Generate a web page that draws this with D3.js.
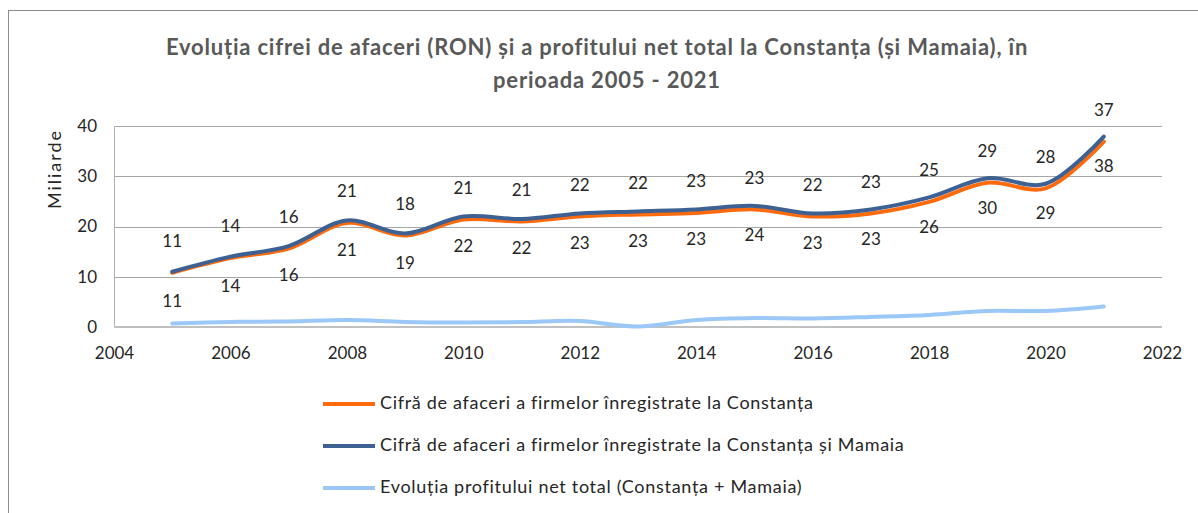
<!DOCTYPE html>
<html lang="ro">
<head>
    <meta charset="UTF-8">
    <title>Evoluția cifrei de afaceri</title>
    <style>
        body { margin: 0; background: #fff; }
        svg { display: block; font-family: Lato, "Open Sans", sans-serif; }
    </style>
</head>
<body>
<svg/>
<script src="https://d3js.org/d3.v7.min.js"></script>
<script>
    // date (miliarde RON)
    var years = [2005, 2006, 2007, 2008, 2009, 2010, 2011, 2012, 2013, 2014, 2015, 2016, 2017, 2018, 2019, 2020, 2021];
    var constanta = [10.8, 13.7, 15.6, 20.7, 18.2, 21.4, 21.0, 22.0, 22.4, 22.7, 23.4, 22.0, 22.6, 24.9, 28.7, 27.6, 36.9];
    var constantaMamaia = [11.0, 14.0, 16.1, 21.2, 18.6, 22.0, 21.5, 22.6, 23.0, 23.4, 24.1, 22.6, 23.4, 25.8, 29.6, 28.5, 37.9];
    var profit = [0.7, 1.0, 1.1, 1.4, 1.0, 0.9, 1.0, 1.2, 0.1, 1.4, 1.8, 1.7, 2.0, 2.4, 3.2, 3.2, 4.1];
    var xTicks = [2004, 2006, 2008, 2010, 2012, 2014, 2016, 2018, 2020, 2022];
    var yTicks = [0, 10, 20, 30, 40];
    var seriesNames = [
        "Cifră de afaceri a firmelor înregistrate la Constanța",
        "Cifră de afaceri a firmelor înregistrate la Constanța și Mamaia",
        "Evoluția profitului net total (Constanța + Mamaia)"
    ];
    var colors = ["#ff6a0d", "#3d6192", "#9cc8f7"];

    var width = 1198;
    var height = 513;
    var margin = {left: 114, right: 36, top: 126, bottom: 186};

    var svg = d3.select("svg")
        .attr("width", width)
        .attr("height", height);

    // cadru exterior
    svg.append("rect")
        .attr("x", 8.5).attr("y", 10.5)
        .attr("width", width + 20).attr("height", height + 20)
        .attr("fill", "none")
        .attr("stroke", "#8c8c8c");

    var xScale = d3.scaleLinear().domain([2004, 2022]).range([margin.left, width - margin.right]);
    var yScale = d3.scaleLinear().domain([0, 40]).range([height - margin.bottom, margin.top]);

    // titlu
    svg.append("text")
        .attr("x", 597).attr("y", 55)
        .attr("text-anchor", "middle")
        .attr("font-size", "22px").attr("font-weight", "bold")
        .attr("letter-spacing", "0.8px")
        .attr("fill", "#595959")
        .text("Evoluția cifrei de afaceri (RON) și a profitului net total la Constanța (și Mamaia), în");
    svg.append("text")
        .attr("x", 607).attr("y", 88)
        .attr("text-anchor", "middle")
        .attr("font-size", "22px").attr("font-weight", "bold")
        .attr("letter-spacing", "0.8px")
        .attr("fill", "#595959")
        .text("perioada 2005 - 2021");

    // grila
    svg.append("g")
        .selectAll("line")
        .data(yTicks.slice(1))
        .enter().append("line")
        .attr("x1", xScale(2004)).attr("x2", xScale(2022))
        .attr("y1", function (d) { return Math.round(yScale(d)) + 0.5; })
        .attr("y2", function (d) { return Math.round(yScale(d)) + 0.5; })
        .attr("stroke", "#a6a6a6");

    svg.append("line")
        .attr("x1", xScale(2004) + 0.5).attr("x2", xScale(2004) + 0.5)
        .attr("y1", yScale(40)).attr("y2", yScale(0))
        .attr("stroke", "#b0b0b0");

    svg.append("line")
        .attr("x1", xScale(2004)).attr("x2", xScale(2022))
        .attr("y1", yScale(0)).attr("y2", yScale(0))
        .attr("stroke", "#c0c0c0").attr("stroke-width", 2);

    // axe
    var yAxis = d3.axisLeft(yScale).tickValues(yTicks).tickSize(0).tickPadding(17);
    svg.append("g")
        .attr("transform", "translate(" + xScale(2004) + ",0)")
        .call(yAxis)
        .call(function (g) { g.select(".domain").remove(); })
        .selectAll("text")
        .attr("font-family", "Lato, sans-serif")
        .attr("font-size", "17px")
        .attr("fill", "#262626");

    var xAxis = d3.axisBottom(xScale).tickValues(xTicks).tickSize(0).tickPadding(20).tickFormat(d3.format("d"));
    svg.append("g")
        .attr("transform", "translate(0," + yScale(0) + ")")
        .call(xAxis)
        .call(function (g) { g.select(".domain").remove(); })
        .selectAll("text")
        .attr("font-family", "Lato, sans-serif")
        .attr("font-size", "17px")
        .attr("fill", "#262626");

    svg.append("text")
        .attr("transform", "translate(56,169) rotate(-90)")
        .attr("text-anchor", "middle")
        .attr("dominant-baseline", "middle")
        .attr("font-size", "18px")
        .attr("letter-spacing", "2px")
        .attr("fill", "#262626")
        .text("Miliarde");

    // linii
    var line = d3.line()
        .x(function (d, i) { return xScale(years[i]); })
        .y(function (d) { return yScale(d); })
        .curve(d3.curveCatmullRom.alpha(0.5));

    var series = [profit, constanta, constantaMamaia];
    var seriesColors = [colors[2], colors[0], colors[1]];
    svg.append("g")
        .selectAll("path")
        .data(series)
        .enter().append("path")
        .attr("d", line)
        .attr("fill", "none")
        .attr("stroke", function (d, i) { return seriesColors[i]; })
        .attr("stroke-width", 4)
        .attr("stroke-linecap", "round")
        .attr("stroke-linejoin", "round");

    // etichete
    svg.append("g")
        .selectAll("text")
        .data(constanta)
        .enter().append("text")
        .attr("x", function (d, i) { return xScale(years[i]); })
        .attr("y", function (d) { return yScale(d) - 30; })
        .attr("text-anchor", "middle")
        .attr("dominant-baseline", "middle")
        .attr("font-size", "17px")
        .attr("fill", "#262626")
        .text(function (d) { return Math.round(d); });

    svg.append("g")
        .selectAll("text")
        .data(constantaMamaia)
        .enter().append("text")
        .attr("x", function (d, i) { return xScale(years[i]); })
        .attr("y", function (d) { return yScale(d) + 31; })
        .attr("text-anchor", "middle")
        .attr("dominant-baseline", "middle")
        .attr("font-size", "17px")
        .attr("fill", "#262626")
        .text(function (d) { return Math.round(d); });

    // legenda
    var legend = svg.append("g")
        .selectAll("g")
        .data(seriesNames)
        .enter().append("g")
        .attr("transform", function (d, i) { return "translate(323," + (404 + i * 42) + ")"; });

    legend.append("line")
        .attr("x1", 0).attr("x2", 52)
        .attr("stroke", function (d, i) { return colors[i]; })
        .attr("stroke-width", 4);

    legend.append("text")
        .attr("x", 57)
        .attr("dominant-baseline", "middle")
        .attr("font-size", "18px")
        .attr("letter-spacing", "0.7px")
        .attr("fill", "#262626")
        .text(function (d) { return d; });
</script>
</body>
</html>
